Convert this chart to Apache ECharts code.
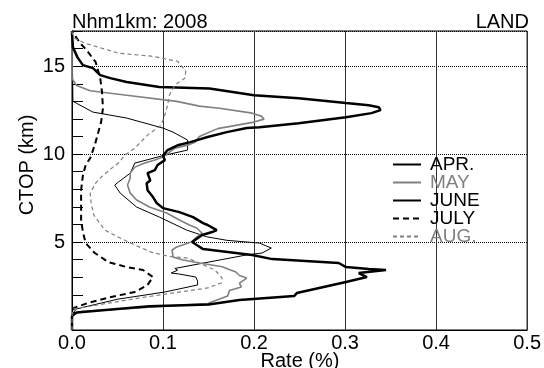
<!DOCTYPE html>
<html>
<head>
<meta charset="utf-8">
<script src="https://cdn.jsdelivr.net/npm/echarts@6/dist/echarts.min.js"></script>
<style>
html,body{margin:0;padding:0;background:#fff;}
#chart{width:544px;height:368px;}
</style>
</head>
<body>
<div id="chart"></div>
<script>
// [rate (%), CTOP (km)]
const seriesNames = ['APR.', 'MAY', 'JUNE', 'JULY', 'AUG.'];
const xTicks = [0, 0.1, 0.2, 0.3, 0.4, 0.5];
const yTicks = [5, 10, 15];

const apr = [[0,0],[0,0.9],[0.005,1.2],[0.05,1.75],[0.102,2.16],[0.138,2.56],[0.138,2.78],[0.136,3.01],[0.118,3.18],[0.109,3.24],[0.116,3.4],[0.113,3.5],[0.191,4.26],[0.209,4.38],[0.219,4.66],[0.206,4.94],[0.17,5.1],[0.148,5.3],[0.126,5.68],[0.096,6.42],[0.071,6.99],[0.053,7.78],[0.047,8.24],[0.051,8.41],[0.064,8.92],[0.069,9.49],[0.102,9.94],[0.127,10.23],[0.127,10.8],[0.111,11.25],[0.1,11.48],[0.06,12.05],[0.023,12.39],[0.001,13.0],[0,17]];

const may = [[0,0],[0,0.9],[0.01,1.05],[0.149,1.5],[0.171,1.93],[0.173,2.25],[0.186,2.45],[0.184,2.67],[0.192,2.95],[0.184,3.1],[0.18,3.3],[0.172,3.45],[0.165,3.6],[0.14,3.81],[0.122,3.98],[0.111,4.15],[0.11,4.55],[0.115,4.72],[0.131,5.0],[0.137,5.28],[0.143,5.5],[0.137,5.8],[0.129,5.97],[0.118,6.25],[0.104,6.65],[0.085,6.99],[0.071,7.39],[0.064,7.78],[0.061,8.24],[0.064,8.64],[0.064,8.92],[0.069,9.26],[0.08,9.49],[0.091,9.66],[0.1,9.83],[0.113,10.34],[0.127,10.51],[0.135,10.68],[0.14,11.0],[0.16,11.45],[0.2,11.82],[0.211,11.99],[0.208,12.16],[0.198,12.33],[0.162,12.61],[0.14,12.73],[0.115,13.0],[0.06,13.35],[0.02,13.6],[0.005,13.9],[0,14.3],[0,17]];

const june = [[0,0],[0,0.8],[0.005,1.0],[0.085,1.35],[0.15,1.45],[0.184,1.7],[0.244,1.93],[0.247,2.1],[0.301,2.73],[0.324,3.01],[0.315,3.24],[0.345,3.41],[0.326,3.47],[0.301,3.58],[0.293,3.81],[0.22,4.03],[0.198,4.26],[0.144,4.6],[0.137,4.83],[0.132,5.0],[0.143,5.4],[0.154,5.57],[0.159,5.68],[0.149,5.97],[0.144,6.08],[0.133,6.42],[0.118,6.7],[0.1,6.93],[0.093,7.22],[0.089,7.56],[0.083,7.95],[0.082,8.35],[0.086,8.5],[0.083,8.92],[0.091,9.09],[0.094,9.38],[0.102,9.66],[0.1,9.9],[0.105,10.23],[0.116,10.5],[0.13,10.68],[0.149,10.97],[0.17,11.25],[0.192,11.48],[0.206,11.53],[0.249,11.76],[0.301,12.1],[0.329,12.33],[0.339,12.5],[0.337,12.67],[0.326,12.78],[0.301,12.9],[0.249,13.18],[0.2,13.35],[0.151,13.73],[0.096,13.82],[0.06,14.1],[0.042,14.32],[0.031,14.49],[0.023,14.89],[0.012,15.06],[0.006,15.5],[0.001,16.08],[0,16.9],[0,17]];

const july = [[0,0],[0,0.8],[0.002,1.25],[0.017,1.53],[0.043,1.88],[0.069,2.16],[0.083,2.56],[0.089,3.01],[0.078,3.41],[0.06,3.58],[0.04,3.86],[0.025,4.38],[0.015,4.94],[0.012,5.57],[0.01,6.25],[0.01,7.1],[0.01,7.95],[0.012,8.81],[0.015,9.38],[0.02,9.77],[0.025,10.51],[0.028,11.08],[0.032,11.82],[0.034,12.61],[0.033,13.52],[0.031,14.32],[0.026,15.23],[0.016,15.91],[0.009,16.31],[0.003,16.76],[0,17]];

const aug = [[0,0],[0,0.9],[0.002,1.2],[0.074,1.82],[0.149,2.39],[0.164,2.67],[0.165,2.95],[0.16,3.24],[0.157,3.41],[0.14,3.8],[0.127,4.09],[0.105,4.2],[0.087,4.43],[0.069,4.83],[0.051,5.28],[0.036,5.68],[0.032,5.97],[0.024,6.53],[0.021,7.22],[0.02,7.78],[0.026,8.35],[0.032,8.69],[0.045,9.26],[0.051,9.49],[0.058,9.94],[0.069,10.34],[0.083,11.08],[0.098,11.65],[0.102,12.22],[0.105,12.78],[0.107,13.35],[0.113,13.92],[0.124,14.32],[0.125,14.72],[0.116,15.28],[0.087,15.57],[0.051,15.74],[0.014,16.31],[0.003,16.59],[0,16.9],[0,17]];

const FONT = 'Liberation Sans, Arial, Helvetica, sans-serif';
const chart = echarts.init(document.getElementById('chart'), null, {renderer: 'canvas'});

function mk(name, data, color, width, type) {
  return {
    name: name, type: 'line', data: data, symbol: 'none', showSymbol: false,
    smooth: false, animation: false, clip: true,
    lineStyle: {color: color, width: width, type: type},
    itemStyle: {color: color}
  };
}

chart.setOption({
  animation: false,
  backgroundColor: '#fff',
  title: [
    {text: 'Nhm1km: 2008', left: 72, top: 12, padding: 0,
     textStyle: {fontFamily: FONT, fontSize: 20, fontWeight: 'normal', color: '#000'}},
    {text: 'LAND', right: 15, top: 12, padding: 0,
     textStyle: {fontFamily: FONT, fontSize: 20, fontWeight: 'normal', color: '#000'}}
  ],
  grid: {left: 72, right: 15, top: 31, bottom: 38, show: true, borderColor: '#000', borderWidth: 1, backgroundColor: 'transparent'},
  legend: {
    orient: 'vertical', left: 392, top: 155, padding: 0, itemGap: -1,
    itemWidth: 28, itemHeight: 10,
    itemStyle: {opacity: 0},
    textStyle: {fontFamily: FONT, fontSize: 19, lineHeight: 17.8, padding: [0, 0, 0, 4]},
    data: [
      {name: 'APR.', textStyle: {color: '#000'}},
      {name: 'MAY', textStyle: {color: '#808080'}},
      {name: 'JUNE', textStyle: {color: '#000'}},
      {name: 'JULY', textStyle: {color: '#000'}},
      {name: 'AUG.', textStyle: {color: '#808080'}}
    ]
  },
  xAxis: {
    type: 'value', min: xTicks[0], max: xTicks[xTicks.length - 1], interval: 0.1,
    axisLine: {show: true, lineStyle: {color: '#000', width: 1}},
    axisTick: {show: false},
    axisLabel: {fontFamily: FONT, fontSize: 20, color: '#000', margin: 3,
      formatter: function (v) { return v.toFixed(1); }},
    splitLine: {show: true, lineStyle: {color: '#333', width: 1, type: 'solid'}}
  },
  yAxis: {
    type: 'value', min: 0, max: 17, interval: 5,
    axisLine: {show: true, lineStyle: {color: '#000', width: 1}},
    axisTick: {show: true, inside: true, length: 11, lineStyle: {color: '#000', width: 1}},
    minorTick: {show: true, splitNumber: 5, length: 11, lineStyle: {color: '#000', width: 1}},
    axisLabel: {fontFamily: FONT, fontSize: 20, color: '#000', margin: 7,
      formatter: function (v) { return yTicks.indexOf(v) >= 0 ? String(v) : ''; }},
    splitLine: {show: true, lineStyle: {color: '#000', width: 1, type: [1, 1]}}
  },
  graphic: [
    {type: 'text', x: 27, y: 165, rotation: Math.PI / 2,
     style: {text: 'CTOP (km)', fontFamily: FONT, fontSize: 20, fill: '#000', align: 'center', verticalAlign: 'middle'}},
    {type: 'text', x: 300, y: 351,
     style: {text: 'Rate (%)', fontFamily: FONT, fontSize: 20, fill: '#000', align: 'center', verticalAlign: 'top'}}
  ],
  series: [
    mk(seriesNames[0], apr, '#000', 1, 'solid'),
    mk(seriesNames[1], may, '#808080', 1.6, 'solid'),
    mk(seriesNames[2], june, '#000', 2.5, 'solid'),
    mk(seriesNames[3], july, '#000', 2, [6, 4]),
    mk(seriesNames[4], aug, '#808080', 1.2, [4, 3])
  ]
});
</script>
</body>
</html>
